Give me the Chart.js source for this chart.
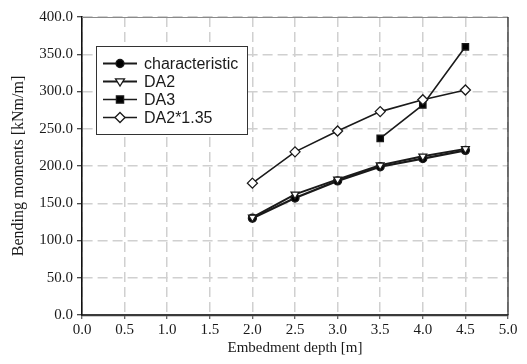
<!DOCTYPE html>
<html>
<head>
<meta charset="utf-8">
<script src="https://cdn.jsdelivr.net/npm/chart.js@4/dist/chart.umd.min.js"></script>
<style>
html,body{margin:0;padding:0;background:#fff;}
#wrap{width:527px;height:364px;position:relative;}
</style>
</head>
<body>
<div id="wrap"><canvas id="c" width="527" height="364"></canvas></div>
<script>
const depth = [2.0, 2.5, 3.0, 3.5, 4.0, 4.5];
const characteristic = [130, 157, 180, 199, 210, 221];
const da2 = [131, 162, 182, 201, 213, 223];
const da3 = [null, null, null, 237, 282, 360];
const da2x135 = [177, 219, 247, 273, 289, 302];
const seriesNames = ['characteristic', 'DA2', 'DA3', 'DA2*1.35'];
const xTicks = [0, 0.5, 1, 1.5, 2, 2.5, 3, 3.5, 4, 4.5, 5];
const yTicks = [0, 50, 100, 150, 200, 250, 300, 350, 400];

function pts(vals) {
  const out = [];
  vals.forEach((v, i) => { if (v !== null) out.push({x: depth[i], y: v}); });
  return out;
}

const styles = [
  {pointStyle: 'circle', bg: '#000', r: 4, rot: 0, lw: 2.2},
  {pointStyle: 'triangle', bg: '#fff', r: 4.5, rot: 180, lw: 2},
  {pointStyle: 'rect', bg: '#000', r: 4.5, rot: 0, lw: 1.6},
  {pointStyle: 'rectRot', bg: '#fff', r: 5, rot: 0, lw: 1.6}
];
const allVals = [characteristic, da2, da3, da2x135];

const datasets = allVals.map((vals, i) => ({
  label: seriesNames[i],
  data: pts(vals),
  borderColor: '#1a1a1a',
  borderWidth: styles[i].lw,
  pointStyle: styles[i].pointStyle,
  pointRotation: styles[i].rot,
  pointRadius: styles[i].r,
  pointBackgroundColor: styles[i].bg,
  pointBorderColor: '#1a1a1a',
  pointBorderWidth: 1.3,
  tension: 0,
  fill: false,
  order: 4 - i
}));

const framePlugin = {
  id: 'frame',
  beforeDatasetsDraw(chart) {
    const a = chart.chartArea, ctx = chart.ctx;
    ctx.save();
    ctx.strokeStyle = '#8a8a8a';
    ctx.lineWidth = 1;
    ctx.beginPath();
    ctx.moveTo(a.left, a.top + 0.5);
    ctx.lineTo(a.right, a.top + 0.5);
    ctx.stroke();
    ctx.strokeStyle = '#222';
    ctx.lineWidth = 1.2;
    ctx.beginPath();
    ctx.moveTo(a.right, a.top);
    ctx.lineTo(a.right, a.bottom);
    ctx.stroke();
    ctx.restore();
  }
};

function drawMarker(ctx, st, x, y) {
  ctx.save();
  ctx.fillStyle = st.bg;
  ctx.strokeStyle = '#1a1a1a';
  ctx.lineWidth = 1.3;
  ctx.beginPath();
  const r = st.r;
  if (st.pointStyle === 'circle') {
    ctx.arc(x, y, r, 0, Math.PI * 2);
  } else if (st.pointStyle === 'triangle') {
    ctx.moveTo(x - r, y - r * 0.6);
    ctx.lineTo(x + r, y - r * 0.6);
    ctx.lineTo(x, y + r);
    ctx.closePath();
  } else if (st.pointStyle === 'rect') {
    ctx.rect(x - r * 0.8, y - r * 0.8, r * 1.6, r * 1.6);
  } else {
    ctx.moveTo(x, y - r);
    ctx.lineTo(x + r, y);
    ctx.lineTo(x, y + r);
    ctx.lineTo(x - r, y);
    ctx.closePath();
  }
  ctx.fill();
  ctx.stroke();
  ctx.restore();
}

const legendPlugin = {
  id: 'boxLegend',
  afterDraw(chart) {
    const ctx = chart.ctx;
    const bx = 96.5, by = 46.5, bw = 151, bh = 88;
    ctx.save();
    ctx.fillStyle = '#fff';
    ctx.fillRect(bx, by, bw, bh);
    ctx.strokeStyle = '#333';
    ctx.lineWidth = 1;
    ctx.strokeRect(bx, by, bw, bh);
    ctx.font = '16px "Liberation Sans", Arial, sans-serif';
    ctx.textBaseline = 'middle';
    ctx.fillStyle = '#1a1a1a';
    chart.data.datasets.forEach((ds, i) => {
      const y = 63.5 + i * 18;
      ctx.strokeStyle = '#1a1a1a';
      ctx.lineWidth = styles[i].lw;
      ctx.beginPath();
      ctx.moveTo(103, y);
      ctx.lineTo(137, y);
      ctx.stroke();
      drawMarker(ctx, styles[i], 120, y);
      ctx.fillStyle = '#1a1a1a';
      ctx.fillText(ds.label, 144, y + 1);
    });
    ctx.restore();
  }
};

const tickFont = {family: '"Liberation Serif", "Times New Roman", serif', size: 15};

new Chart(document.getElementById('c'), {
  type: 'line',
  data: {datasets},
  options: {
    responsive: false,
    animation: false,
    events: [],
    layout: {padding: {top: 17, right: 19, left: 0, bottom: 0}},
    plugins: {legend: {display: false}, tooltip: {enabled: false}},
    scales: {
      x: {
        type: 'linear',
        min: 0, max: 5,
        afterBuildTicks(scale) { scale.ticks = xTicks.map(v => ({value: v})); },
        afterFit(scale) { scale.height = 49; },
        ticks: {
          font: tickFont, color: '#1a1a1a', padding: 2,
          callback: v => Number(v).toFixed(1), maxRotation: 0, autoSkip: false
        },
        grid: {color: '#d0d0d0', lineWidth: 1.5, tickLength: 4, tickColor: '#333', tickWidth: 1, drawTicks: true},
        border: {display: true, color: '#3a3a3a', width: 2.2, dash: [10, 5]},
        title: {display: true, text: 'Embedment depth [m]', font: tickFont, color: '#1a1a1a', padding: {top: 0, bottom: 7}}
      },
      y: {
        min: 0, max: 400,
        afterBuildTicks(scale) { scale.ticks = yTicks.map(v => ({value: v})); },
        afterFit(scale) { scale.width = 82; },
        ticks: {
          font: tickFont, color: '#1a1a1a', padding: 4,
          callback: v => Number(v).toFixed(1), autoSkip: false
        },
        grid: {color: '#d0d0d0', lineWidth: 1.5, tickLength: 5, tickColor: '#111', tickWidth: 1, drawTicks: true},
        border: {display: true, color: '#111', width: 1.6, dash: [10, 5]},
        title: {display: true, text: 'Bending moments [kNm/m]', font: {family: '"Liberation Serif", "Times New Roman", serif', size: 16}, color: '#1a1a1a', padding: {top: 9, bottom: 0}}
      }
    }
  },
  plugins: [framePlugin, legendPlugin]
});
</script>
</body>
</html>
